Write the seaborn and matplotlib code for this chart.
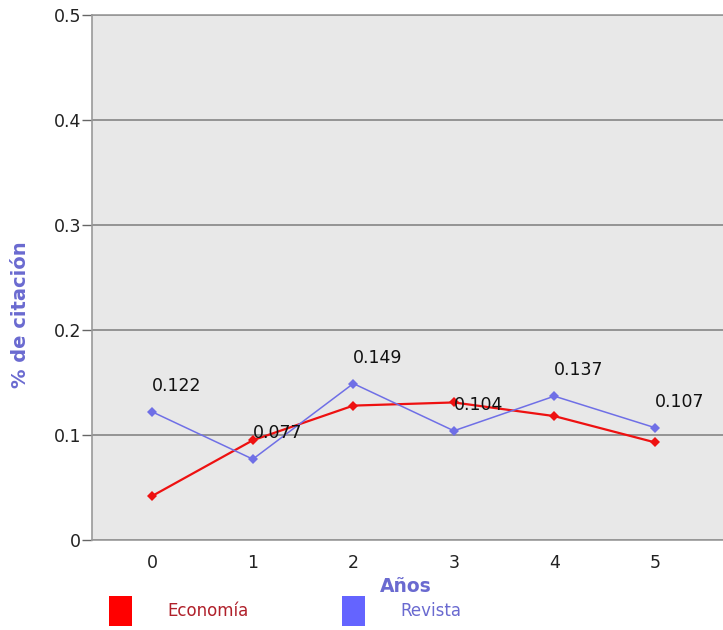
import matplotlib
matplotlib.use("Agg")
import matplotlib.pyplot as plt
import seaborn as sns
import pandas as pd
from matplotlib.patches import Patch

years = [0, 1, 2, 3, 4, 5]
economia = [0.042, 0.095, 0.128, 0.131, 0.118, 0.093]
revista = [0.122, 0.077, 0.149, 0.104, 0.137, 0.107]
series_names = ["Economía", "Revista"]
y_ticks = [0, 0.1, 0.2, 0.3, 0.4, 0.5]
y_tick_labels = ["0", "0.1", "0.2", "0.3", "0.4", "0.5"]

df = pd.DataFrame({
    "Años": years * 2,
    "valor": economia + revista,
    "serie": [series_names[0]] * len(years) + [series_names[1]] * len(years),
})

sns.set_style("white")
plt.rcParams["font.family"] = ["DejaVu Sans"]

red = "#ee1111"
blue = "#6f6fe6"

fig = plt.figure(figsize=(7.23, 6.3), dpi=100)
ax = fig.add_axes([92 / 723, 1 - 540 / 630, 1 - 92 / 723 + 0.01, (540 - 15) / 630])
ax.set_facecolor("#e8e8e8")

sns.lineplot(data=df, x="Años", y="valor", hue="serie", style="serie",
             palette={"Economía": red, "Revista": blue},
             markers={"Economía": "D", "Revista": "D"}, dashes=False,
             markersize=5.5, ax=ax, legend=False)
for line, lw in zip(ax.lines, [1.6, 1.1]):
    line.set_linewidth(lw)
    line.set_markeredgewidth(0)

for x, v in zip(years, revista):
    ax.annotate(f"{v:.3f}", (x, v), xytext=(0, 12), textcoords="offset points",
                ha="left", va="bottom", fontsize=12.5, color="#111111")

ax.set_xlim(-0.6, 5.75)
ax.set_ylim(0, 0.5)
ax.set_yticks(y_ticks)
ax.set_yticklabels(y_tick_labels)
ax.set_xticks(years)
ax.yaxis.grid(True, color="#858585", linewidth=1.2)
ax.xaxis.grid(False)
for s in ax.spines.values():
    s.set_color("#999999")
    s.set_linewidth(1.2)
ax.spines["right"].set_visible(False)
ax.tick_params(axis="y", length=7, width=1, color="#666666", labelsize=12.5,
               labelcolor="#222222", pad=1, left=True)
ax.tick_params(axis="x", length=0, labelsize=12.5, labelcolor="#222222", pad=10)

ax.set_xlabel("Años", fontsize=13.5, fontweight="bold", color="#6a6ad0")
ax.xaxis.set_label_coords(0.491, -0.0705)
ax.set_ylabel("% de citación", fontsize=14, fontweight="bold", color="#6a6ad0")
ax.yaxis.set_label_coords(-0.097, 0.43)

handles = [Patch(facecolor="#ff0000", edgecolor="none"),
           Patch(facecolor="#6464ff", edgecolor="none")]
fig.legend(handles, series_names, loc="lower left", bbox_to_anchor=(0.1295, -0.018),
           ncol=2, frameon=False, handlelength=1.4, handleheight=2.4,
           handletextpad=2.1, columnspacing=5.6, fontsize=12,
           labelcolor=["#b0202a", "#6a6ad0"])

fig.savefig("out.png", dpi=100)
